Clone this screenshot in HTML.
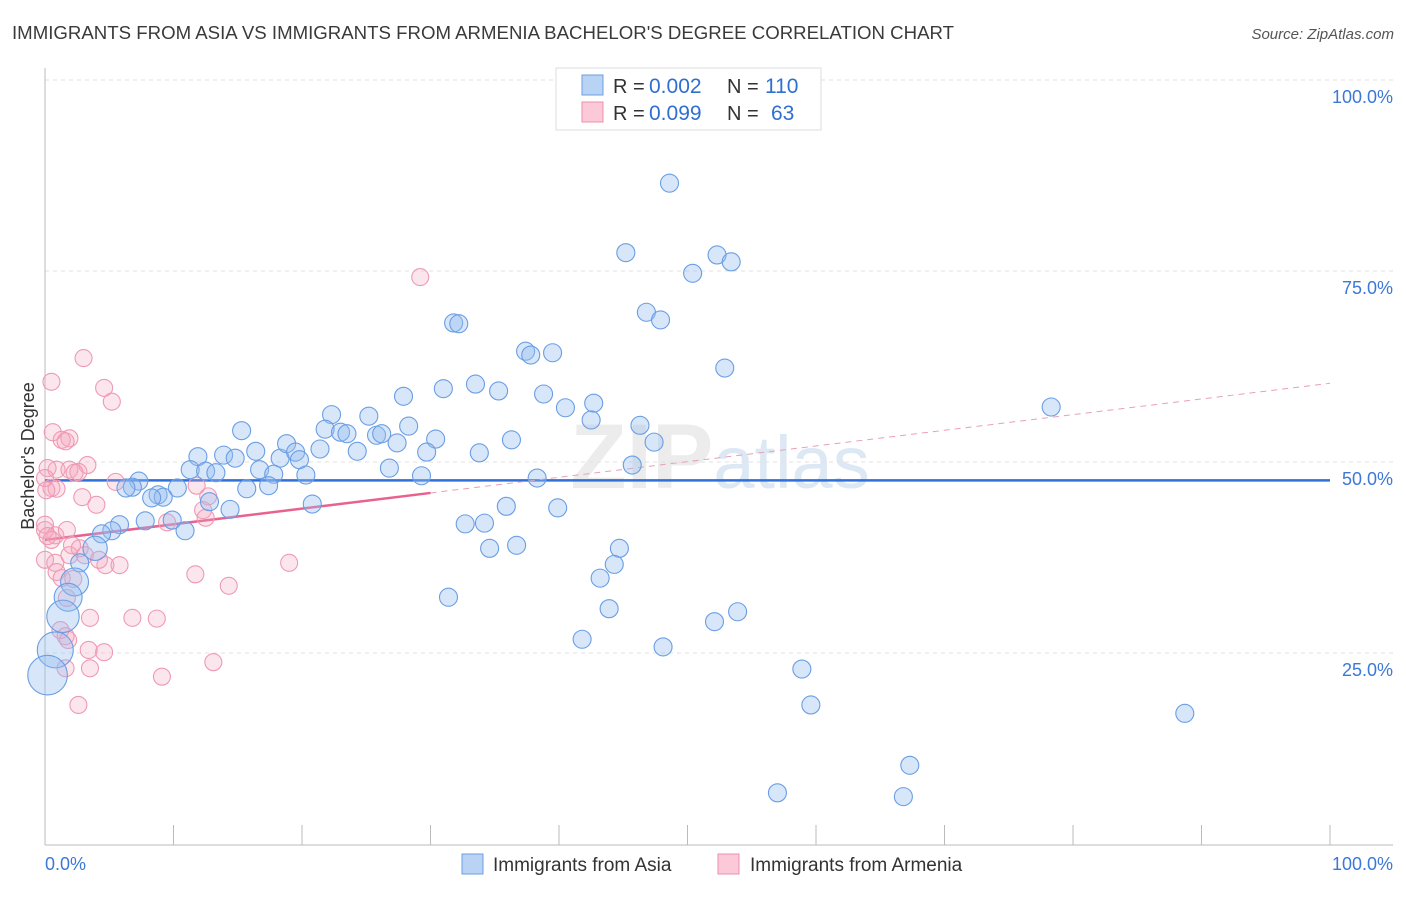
<!DOCTYPE html>
<html><head><meta charset="utf-8"><style>
body{margin:0;background:#fff;font-family:"Liberation Sans",sans-serif}
svg text{font-family:"Liberation Sans",sans-serif}
</style></head><body>
<svg id="chart" width="1406" height="892" viewBox="0 0 1406 892">
<text x="12" y="39" font-size="18" fill="#3a3a3a" textLength="942" lengthAdjust="spacingAndGlyphs">IMMIGRANTS FROM ASIA VS IMMIGRANTS FROM ARMENIA BACHELOR'S DEGREE CORRELATION CHART</text>
<text x="1394" y="39" font-size="15" fill="#555" text-anchor="end" font-style="italic">Source: ZipAtlas.com</text>
<text x="720" y="488" font-size="92" fill="#ececec" text-anchor="middle" font-family="Liberation Serif"><tspan font-weight="bold">ZIP</tspan><tspan fill="#dde8f5" font-family="Liberation Sans" font-size="74">atlas</tspan></text>
<g id="grid"></g>
<g id="axes"></g>
<g id="trend"></g>
<g id="points"></g>
<text transform="translate(34,456) rotate(-90)" font-size="18" fill="#333" text-anchor="middle">Bachelor's Degree</text>
<g>
<rect x="556" y="68" width="265" height="62" fill="#fff" stroke="#ddd"/>
<rect x="582" y="75" width="21" height="20" fill="#b9d3f5" stroke="#6a9fe0"/>
<text x="613" y="93" font-size="20" fill="#333">R =</text>
<text x="649" y="93" font-size="21" fill="#2f6fd0">0.002</text>
<text x="727" y="93" font-size="20" fill="#333">N =</text>
<text x="765" y="93" font-size="21" fill="#2f6fd0">110</text>
<rect x="582" y="102" width="21" height="20" fill="#fbc9d8" stroke="#ec90ad"/>
<text x="613" y="120" font-size="20" fill="#333">R =</text>
<text x="649" y="120" font-size="21" fill="#2f6fd0">0.099</text>
<text x="727" y="120" font-size="20" fill="#333">N =</text>
<text x="771" y="120" font-size="21" fill="#2f6fd0">63</text>
</g>
<g>
<rect x="462" y="854" width="21" height="20" fill="#b9d3f5" stroke="#6a9fe0"/>
<text x="493" y="871" font-size="19" fill="#333">Immigrants from Asia</text>
<rect x="718" y="854" width="21" height="20" fill="#fbc9d8" stroke="#ec90ad"/>
<text x="750" y="871" font-size="19" fill="#333">Immigrants from Armenia</text>
</g>
</svg>
<script>
const yTicks=[100,75,50,25];
const yTickLabels=["100.0%","75.0%","50.0%","25.0%"];
const xTickCount=10;
const asiaX=[48.6,45.2,52.3,53.4,50.4,46.8,47.9,31.8,32.2,37.4,37.8,39.5,52.9,27.9,31.0,33.5,35.3,38.8,22.3,25.2,42.7,40.5,42.5,46.3,15.3,21.8,23.0,23.5,25.8,26.2,27.4,28.3,30.4,36.3,47.4,78.3,13.9,11.9,16.4,14.8,18.3,18.8,19.5,19.8,21.4,24.3,29.7,33.8,11.3,12.5,13.3,16.7,17.8,20.3,26.8,29.3,38.3,45.7,7.3,6.8,6.3,10.3,15.7,17.4,8.8,9.2,8.3,12.8,14.4,20.8,35.9,39.9,7.8,9.9,10.9,5.8,5.2,4.4,3.9,2.7,2.3,1.8,1.4,0.8,0.2,32.7,34.2,34.6,36.7,44.7,43.2,44.3,31.4,43.9,41.8,52.1,53.9,48.1,58.9,59.6,88.7,67.3,57.0,66.8];
const asiaY=[86.5,77.4,77.1,76.2,74.7,69.6,68.6,68.2,68.1,64.5,64.0,64.3,62.3,58.6,59.6,60.2,59.3,58.9,56.2,56.0,57.7,57.1,55.5,54.8,54.1,54.3,53.9,53.7,53.5,53.7,52.5,54.7,53.0,52.9,52.6,57.2,50.9,50.7,51.4,50.5,50.5,52.4,51.3,50.3,51.7,51.4,51.3,51.2,49.0,48.8,48.6,49.0,48.4,48.3,49.2,48.2,47.9,49.6,47.5,46.7,46.6,46.6,46.5,46.9,45.7,45.4,45.3,44.8,43.8,44.5,44.2,44.0,42.3,42.4,41.0,41.8,41.0,40.6,38.7,36.8,34.3,32.3,29.8,25.4,22.1,41.9,42.0,38.7,39.1,38.7,34.8,36.6,32.3,30.8,26.8,29.1,30.4,25.8,22.9,18.2,17.1,10.3,6.7,6.2];
const asiaSize=[];asiaX.forEach(x=>asiaSize.push(1));
const bigIdx=[78,80,81,82,83,84];const bigSize=[1.35,1.55,1.55,1.8,2.0,2.2];
const armX=[0.5,3.0,4.6,5.2,0.6,1.9,1.3,1.6,0.9,1.9,3.3,2.6,2.3,0.2,0.5,0.9,2.9,4.0,0.0,0.1,0.0,0.0,0.8,0.5,0.2,1.7,0.0,0.8,1.9,2.7,3.1,4.7,4.2,5.8,2.1,0.9,1.3,2.2,1.7,1.2,1.6,1.8,3.5,6.8,8.7,4.6,3.4,3.5,1.6,2.6,9.1,13.1,11.7,14.3,19.0,29.2,12.7,12.3,12.5,9.5,11.8,5.5];
const armY=[60.5,63.6,59.7,57.9,53.9,53.1,52.9,52.7,49.0,49.0,49.6,48.7,48.6,49.2,46.6,46.5,45.4,44.4,47.9,46.3,41.8,41.1,40.4,39.8,40.3,41.1,37.2,36.8,37.8,38.7,37.8,36.5,37.2,36.5,39.1,35.6,34.8,34.7,32.2,28.0,27.2,26.7,29.6,29.6,29.5,25.1,25.4,23.0,23.0,18.2,21.9,23.8,35.3,33.8,36.8,74.2,45.5,43.7,42.7,42.1,46.9,47.4];
const asiaTrend=[47.6,0];
const armTrend=[39.8,0.205];
const armSolidEnd=30;

const NS="http://www.w3.org/2000/svg";
const X0=45,X1=1330,Y0=844,Y1=80;
const xs=v=>X0+(X1-X0)*v/100, ys=v=>Y0-(Y0-Y1)*v/100;
function mk(tag,attrs,parent){const e=document.createElementNS(NS,tag);for(const k in attrs)e.setAttribute(k,attrs[k]);document.getElementById(parent).appendChild(e);return e;}
yTicks.forEach((t,i)=>{
 const l=mk('line',{x1:45,x2:1393,y1:ys(t),y2:ys(t),stroke:'#e2e2e2','stroke-dasharray':'4,4'},'grid');
 
 
 const tx=mk('text',{x:1393,y:ys(t)+23,'font-size':18,fill:'#3b78d8','text-anchor':'end'},'grid');
 tx.textContent=yTickLabels[i];
 
 
});
let a=mk('line',{x1:45,x2:45,y1:68,y2:845,stroke:'#bbb'},'axes');


a=mk('line',{x1:45,x2:1393,y1:845,y2:845,stroke:'#bbb'},'axes');


for(let i=1;i<=xTickCount;i++){const x=xs(i*100/xTickCount);const t=mk('line',{x1:x,x2:x,y1:825,y2:845,stroke:'#bbb'},'axes');
 
 }
let xl=mk('text',{x:45,y:870,'font-size':18,fill:'#3b78d8'},'axes');xl.textContent='0.0%';


xl=mk('text',{x:1393,y:870,'font-size':18,fill:'#3b78d8','text-anchor':'end'},'axes');xl.textContent='100.0%';


armX.forEach((x,i)=>{const c=mk('circle',{cx:xs(x),cy:ys(armY[i]),r:8.5,fill:'rgba(245,165,190,0.28)',stroke:'#ef9ab4','stroke-width':1.1},'points');
 
 });
bigIdx.forEach((k,j)=>asiaSize[k]=bigSize[j]);
asiaX.forEach((x,i)=>{const c=mk('circle',{cx:xs(x),cy:ys(asiaY[i]),r:9*asiaSize[i],fill:'rgba(150,190,240,0.38)',stroke:'#6a9ee4','stroke-width':1.1},'points');
 
 });
let t=mk('line',{x1:xs(0),x2:xs(100),y1:ys(asiaTrend[0]),y2:ys(asiaTrend[0]+asiaTrend[1]*100),stroke:'#2f6fd8','stroke-width':2.5},'trend');


t=mk('line',{x1:xs(0),x2:xs(armSolidEnd),y1:ys(armTrend[0]),y2:ys(armTrend[0]+armTrend[1]*armSolidEnd),stroke:'#e8628f','stroke-width':2.5},'trend');


t=mk('line',{x1:xs(armSolidEnd),x2:xs(100),y1:ys(armTrend[0]+armTrend[1]*armSolidEnd),y2:ys(armTrend[0]+armTrend[1]*100),stroke:'#e8a0b5','stroke-width':1,'stroke-dasharray':'6,5'},'trend');


</script>
</body></html>
